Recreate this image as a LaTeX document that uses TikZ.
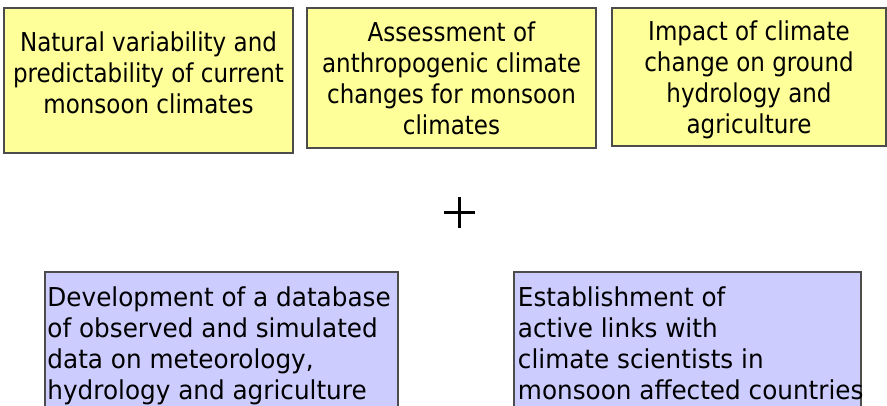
\documentclass[tikz,border=0pt]{standalone}
\usepackage{fontspec}
\usetikzlibrary{positioning}
\newfontfamily\tahomalike[FakeStretch=0.885]{DejaVu Sans}
\newfontfamily\verdanalike[FakeStretch=0.95]{DejaVu Sans}
\definecolor{paleyellow}{HTML}{FFFF99}
\definecolor{palelilac}{HTML}{CCCCFF}
\begin{document}
\begin{tikzpicture}[x=1pt,y=-1pt,
  yellowbox/.style={draw=black!70, line width=1.5pt, fill=paleyellow, inner sep=0pt},
  lilacbox/.style={draw=black!70, line width=1.5pt, fill=palelilac, inner sep=0pt},
  toptext/.style={inner sep=0pt, align=center, font=\tahomalike\fontsize{26}{31}\selectfont},
  bottomtext/.style={inner sep=0pt, align=left, font=\verdanalike\fontsize{26}{31}\selectfont},
  plusbar/.style={line width=3pt}]
\useasboundingbox (0,0) rectangle (887,405);
\clip (0,0) rectangle (887,405);

\node[yellowbox, minimum width=289pt, minimum height=145pt] (natural) at (148.5,80.5) {};
\node[toptext, below=24pt of natural.north] (naturaltext) {Natural variability and\\predictability of current\\monsoon climates};

\node[yellowbox, minimum width=289pt, minimum height=140pt] (assess) at (451.5,78) {};
\node[toptext, below=14pt of assess.north] (assesstext) {Assessment of\\anthropogenic climate\\changes for monsoon\\climates};

\node[yellowbox, minimum width=274pt, minimum height=138pt] (impact) at (749,77) {};
\node[toptext, below=13pt of impact.north] (impacttext) {Impact of climate\\change on ground\\hydrology and\\agriculture};

\coordinate (plus) at (459.5,212.5);
\draw[plusbar] ([xshift=-15.5pt]plus) -- ([xshift=15.5pt]plus);
\draw[plusbar] ([yshift=15.5pt]plus) -- ([yshift=-15.5pt]plus);

\node[lilacbox, minimum width=353pt, minimum height=150pt] (database) at (221.5,347) {};
\node[bottomtext, below right=14.9pt and 3pt of database.north west] (databasetext) {Development of a database\\of observed and simulated\\data on meteorology,\\hydrology and agriculture};

\node[lilacbox, minimum width=347pt, minimum height=150pt] (links) at (687.5,347) {};
\node[bottomtext, below right=14.9pt and 4.5pt of links.north west] (linkstext) {Establishment of\\active links with\\climate scientists in\\monsoon affected countries};
\end{tikzpicture}
\end{document}
